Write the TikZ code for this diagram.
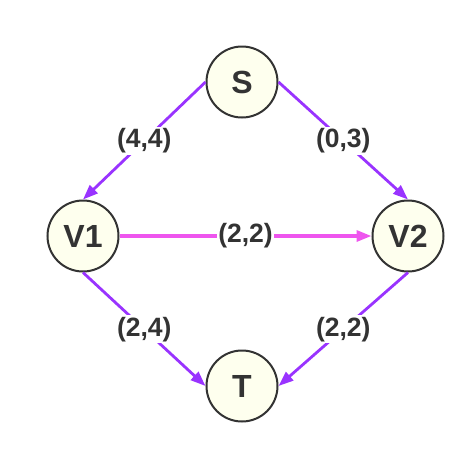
\documentclass[tikz,border=0pt]{standalone}
\usepackage{fontspec}
\setmainfont{Liberation Sans}
\usetikzlibrary{arrows.meta}

\definecolor{nodefill}{RGB}{254,255,238}
\definecolor{inkgray}{RGB}{51,51,51}
\definecolor{flowpurple}{RGB}{153,51,255}
\definecolor{flowpink}{RGB}{238,85,238}

\def\r{35.5}

\begin{document}
\begin{tikzpicture}[x=1pt,y=-1pt,
  vertex/.style={circle,draw=inkgray,line width=2pt,fill=nodefill,
    minimum size={2*\r pt},inner sep=0pt,text=inkgray,
    font=\fontsize{32}{36}\selectfont\bfseries},
  flow/.style={draw=flowpurple,line width=2.8pt,
    -{Triangle[length=15pt,width=11pt]}},
  flowlabel/.style={fill=white,inner sep=1.5pt,text=inkgray,
    font=\fontsize{26.5}{30}\selectfont\bfseries}]
\useasboundingbox (0,0) rectangle (475,453);
% vertices
\node[vertex] (s) at (242,82) {S};
\node[vertex] (v1) at (83,236) {V1};
\node[vertex] (v2) at (408,236) {V2};
\node[vertex] (t) at (242,386) {T};
% edges with (flow,capacity)
\draw[flow] (s.west) -- node[flowlabel] {(4,4)} (v1.north);
\draw[flow] (s.east) -- node[flowlabel] {(0,3)} (v2.north);
\draw[flow,draw=flowpink,line width=3.2pt] (v1.east) -- node[flowlabel] {(2,2)} (v2.west);
\draw[flow] (v1.south) -- node[flowlabel] {(2,4)} (t.west);
\draw[flow] (v2.south) -- node[flowlabel] {(2,2)} (t.east);
\end{tikzpicture}
\end{document}
